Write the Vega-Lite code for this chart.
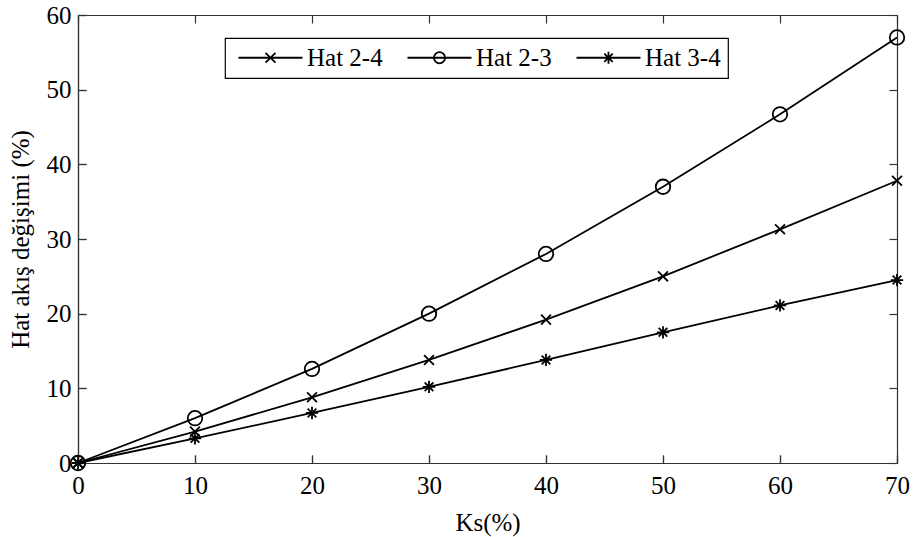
{
  "$schema": "https://vega.github.io/schema/vega-lite/v6.json",
  "width": 819,
  "height": 448,
  "autosize": "none",
  "padding": {"left": 78, "top": 15, "right": 16, "bottom": 74},
  "background": "white",
  "config": {
    "view": {"stroke": null},
    "font": "Liberation Serif",
    "axis": {
      "grid": false,
      "domainColor": "#333333",
      "domainWidth": 1.2,
      "tickColor": "#333333",
      "tickWidth": 1.2,
      "tickSize": -8,
      "labelFlush": false,
      "labelFont": "Liberation Serif",
      "labelFontSize": 25,
      "labelColor": "black",
      "titleFont": "Liberation Serif",
      "titleFontSize": 25,
      "titleFontWeight": "normal",
      "titleColor": "black"
    },
    "legend": {
      "strokeColor": "black",
      "strokeWidth": 1.2,
      "fillColor": "white",
      "padding": 7,
      "labelFont": "Liberation Serif",
      "labelFontSize": 25,
      "labelColor": "black"
    }
  },
  "data": {
    "values": [
      {"ks": 0, "v": 0, "hat": "Hat 2-4"},
      {"ks": 10, "v": 4.2, "hat": "Hat 2-4"},
      {"ks": 20, "v": 8.8, "hat": "Hat 2-4"},
      {"ks": 30, "v": 13.8, "hat": "Hat 2-4"},
      {"ks": 40, "v": 19.2, "hat": "Hat 2-4"},
      {"ks": 50, "v": 25.0, "hat": "Hat 2-4"},
      {"ks": 60, "v": 31.3, "hat": "Hat 2-4"},
      {"ks": 70, "v": 37.8, "hat": "Hat 2-4"},
      {"ks": 0, "v": 0, "hat": "Hat 2-3"},
      {"ks": 10, "v": 6.0, "hat": "Hat 2-3"},
      {"ks": 20, "v": 12.6, "hat": "Hat 2-3"},
      {"ks": 30, "v": 20.0, "hat": "Hat 2-3"},
      {"ks": 40, "v": 28.0, "hat": "Hat 2-3"},
      {"ks": 50, "v": 37.0, "hat": "Hat 2-3"},
      {"ks": 60, "v": 46.7, "hat": "Hat 2-3"},
      {"ks": 70, "v": 57.0, "hat": "Hat 2-3"},
      {"ks": 0, "v": 0, "hat": "Hat 3-4"},
      {"ks": 10, "v": 3.3, "hat": "Hat 3-4"},
      {"ks": 20, "v": 6.7, "hat": "Hat 3-4"},
      {"ks": 30, "v": 10.2, "hat": "Hat 3-4"},
      {"ks": 40, "v": 13.8, "hat": "Hat 3-4"},
      {"ks": 50, "v": 17.5, "hat": "Hat 3-4"},
      {"ks": 60, "v": 21.1, "hat": "Hat 3-4"},
      {"ks": 70, "v": 24.5, "hat": "Hat 3-4"}
    ]
  },
  "layer": [
    {
      "mark": {"type": "line", "color": "black", "strokeWidth": 1.8},
      "encoding": {
        "x": {"field": "ks", "type": "quantitative", "scale": {"domain": [0, 70], "nice": false},
              "axis": {"orient": "bottom", "values": [0,10,20,30,40,50,60,70], "title": "Ks(%)", "labelPadding": 18, "titlePadding": 12}},
        "y": {"field": "v", "type": "quantitative", "scale": {"domain": [0, 60], "nice": false},
              "axis": {"orient": "left", "values": [0,10,20,30,40,50,60], "title": "Hat akış değişimi (%)", "labelPadding": 15, "titlePadding": 13}},
        "detail": {"field": "hat"}
      }
    },
    {
      "mark": {"type": "point", "filled": false, "stroke": "black", "strokeWidth": 1.8, "size": 210, "opacity": 1},
      "encoding": {
        "x": {"field": "ks", "type": "quantitative",
              "axis": {"orient": "top", "values": [0,10,20,30,40,50,60,70], "labels": false, "title": null}},
        "y": {"field": "v", "type": "quantitative",
              "axis": {"orient": "right", "values": [0,10,20,30,40,50,60], "labels": false, "title": null}},
        "shape": {
          "field": "hat", "type": "nominal",
          "scale": {"domain": ["Hat 2-4", "Hat 2-3", "Hat 3-4"],
                    "range": ["M-0.68,-0.68L0.68,0.68M-0.68,0.68L0.68,-0.68", "circle", "M0,-0.85V0.85M-0.85,0H0.85M-0.6,-0.6L0.6,0.6M-0.6,0.6L0.6,-0.6"]},
          "legend": null
        }
      }
    },
    {
      "mark": {"type": "point", "filled": false, "stroke": "black", "strokeWidth": 1.8, "size": 196, "opacity": 0},
      "encoding": {
        "x": {"field": "ks", "type": "quantitative",
              "axis": {"orient": "bottom", "values": [0,10,20,30,40,50,60,70], "labels": false, "title": null}},
        "y": {"field": "v", "type": "quantitative",
              "axis": {"orient": "left", "values": [0,10,20,30,40,50,60], "labels": false, "title": null}},
        "shape": {
          "field": "hat", "type": "nominal",
          "scale": {"domain": ["Hat 2-4", "Hat 2-3", "Hat 3-4"],
                    "range": ["M-4.57,0H4.57M-0.71,-0.71L0.71,0.71M-0.71,0.71L0.71,-0.71", "M-4.57,0H4.57M0.8,0A0.8,0.8 0 1 1 -0.8,0A0.8,0.8 0 1 1 0.8,0", "M-4.57,0H4.57M0,-0.86V0.86M-0.86,0H0.86M-0.6,-0.6L0.6,0.6M-0.6,0.6L0.6,-0.6"]},
          "legend": {
            "title": null,
            "orient": "none",
            "legendX": 147,
            "legendY": 23,
            "direction": "horizontal",
            "columns": 3,
            "symbolSize": 196,
            "symbolOffset": 26,
            "labelOffset": 24,
            "columnPadding": 18,
            "symbolOpacity": 1,
            "symbolStrokeWidth": 1.8,
            "symbolStrokeColor": "black",
            "symbolFillColor": "transparent"
          }
        }
      }
    }
  ],
  "resolve": {"axis": {"x": "independent", "y": "independent"}, "scale": {"shape": "independent"}}
}
